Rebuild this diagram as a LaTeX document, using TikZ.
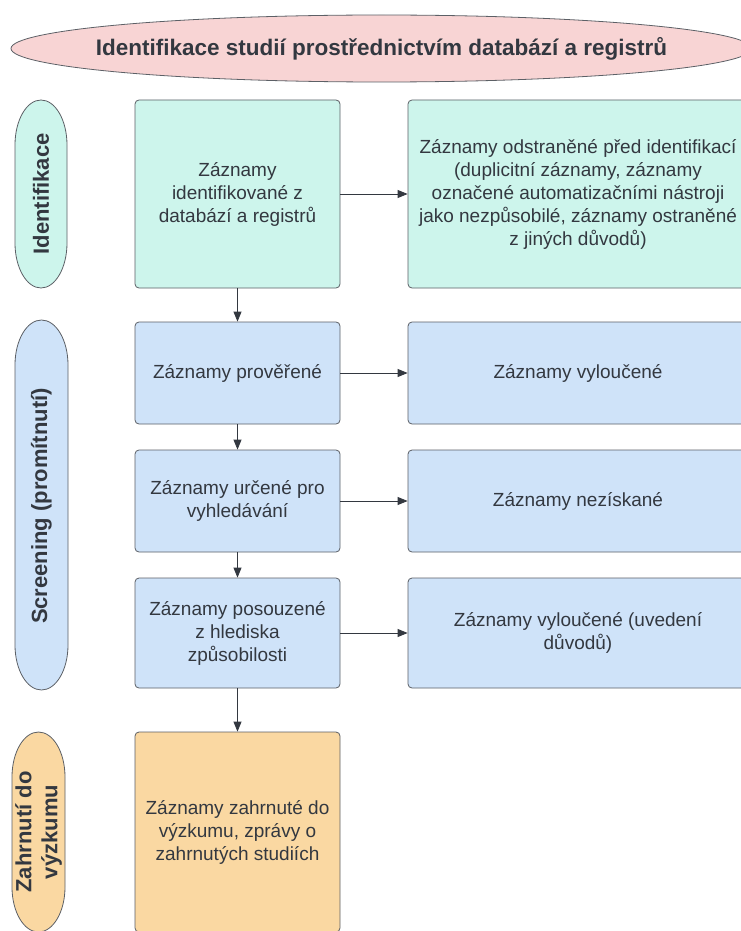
\documentclass[tikz,border=0pt]{standalone}
\usepackage{fontspec}
\setmainfont{Liberation Sans}
\usetikzlibrary{arrows.meta,shapes.geometric}
\definecolor{inkc}{HTML}{333840}
\definecolor{edgec}{HTML}{5C6066}
\definecolor{pinkfill}{HTML}{F8D4D4}
\definecolor{mintfill}{HTML}{CDF5EC}
\definecolor{bluefill}{HTML}{CFE3F9}
\definecolor{amberfill}{HTML}{FAD8A2}
\begin{document}
\begin{tikzpicture}[x=1pt,y=-1pt,
  box/.style={draw=edgec, line width=0.8pt, rounded corners=4pt, text=inkc,
    align=center, font=\fontsize{19}{23}\selectfont, inner sep=0pt},
  leftbox/.style={box, minimum width=205pt},
  rightbox/.style={box, minimum width=340pt},
  pillframe/.style={draw=edgec, line width=0.8pt},
  pilltext/.style={text=inkc, rotate=90, align=center, inner sep=0pt,
    font=\fontsize{22}{26}\selectfont\bfseries},
  link/.style={draw=inkc, line width=0.8pt, -{Triangle[length=10pt,width=8pt]}}]
\useasboundingbox (0,0) rectangle (740,931);
\fill[white] (0,0) rectangle (740,931);

% heading
\node[ellipse, draw=edgec, line width=0.8pt, fill=pinkfill, text=inkc,
  minimum width=741pt, minimum height=67pt, inner sep=0pt,
  font=\fontsize{22.5}{26}\selectfont\bfseries] (head) at (381.5,48.5)
  {\makebox[0pt]{Identifikace studií prostřednictvím databází a registrů}};

% phase labels: capsules with elliptical ends
\filldraw[pillframe, fill=mintfill]
  (15,145) arc[start angle=180, end angle=360, x radius=26, y radius=45]
  -- (67,243) arc[start angle=0, end angle=180, x radius=26, y radius=45] -- cycle;
\node[pilltext] (p1) at (41,194) {Identifikace};

\filldraw[pillframe, fill=bluefill]
  (15,365) arc[start angle=180, end angle=360, x radius=26.5, y radius=45]
  -- (68,645) arc[start angle=0, end angle=180, x radius=26.5, y radius=45] -- cycle;
\node[pilltext] (p2) at (41.5,506) {Screening (promítnutí)};

\filldraw[pillframe, fill=amberfill]
  (12,777) arc[start angle=180, end angle=360, x radius=26.5, y radius=45]
  -- (65,887) arc[start angle=0, end angle=180, x radius=26.5, y radius=45] -- cycle;
\node[pilltext] (p3) at (38.5,832) {Zahrnutí do\\výzkumu};

% main column
\node[leftbox, fill=mintfill, minimum height=188pt] (l1) at (237.5,194)
  {Záznamy\\identifikované z\\databází a registrů};
\node[leftbox, fill=bluefill, minimum height=102pt] (l2) at (237.5,373)
  {Záznamy prověřené};
\node[leftbox, fill=bluefill, minimum height=102pt] (l3) at (237.5,501)
  {Záznamy určené pro\\vyhledávání};
\node[leftbox, fill=bluefill, minimum height=110pt] (l4) at (237.5,633)
  {Záznamy posouzené\\z hlediska\\způsobilosti};
\node[leftbox, fill=amberfill, minimum height=200pt] (l5) at (237.5,832)
  {Záznamy zahrnuté do\\výzkumu, zprávy o\\zahrnutých studiích};

% removed records column
\node[rightbox, fill=mintfill, minimum height=188pt] (r1) at (578,194)
  {Záznamy odstraněné před identifikací\\(duplicitní záznamy, záznamy\\označené automatizačními nástroji\\jako nezpůsobilé, záznamy ostraněné\\z jiných důvodů)};
\node[rightbox, fill=bluefill, minimum height=102pt] (r2) at (578,373)
  {Záznamy vyloučené};
\node[rightbox, fill=bluefill, minimum height=102pt] (r3) at (578,501)
  {Záznamy nezískané};
\node[rightbox, fill=bluefill, minimum height=110pt] (r4) at (578,633)
  {Záznamy vyloučené (uvedení\\důvodů)};

% connectors
\draw[link] (l1.south) -- (l2.north);
\draw[link] (l2.south) -- (l3.north);
\draw[link] (l3.south) -- (l4.north);
\draw[link] (l4.south) -- (l5.north);
\draw[link] (l1.east) -- (r1.west);
\draw[link] (l2.east) -- (r2.west);
\draw[link] (l3.east) -- (r3.west);
\draw[link] (l4.east) -- (r4.west);
\end{tikzpicture}
\end{document}
